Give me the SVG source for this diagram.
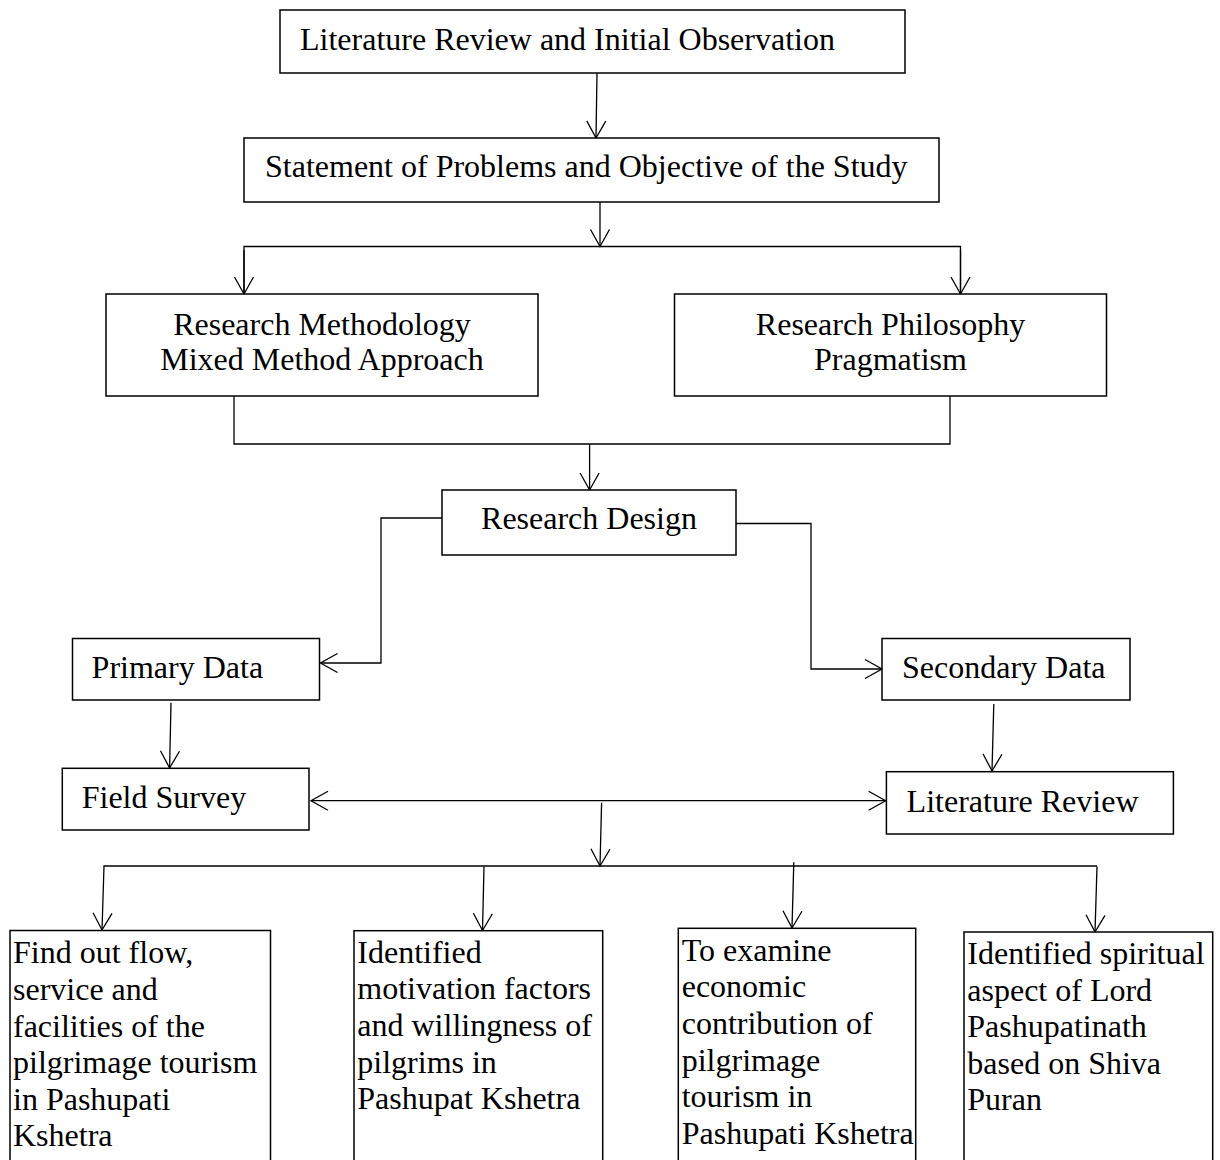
<svg xmlns="http://www.w3.org/2000/svg" width="1220" height="1160" viewBox="0 0 1220 1160">
<style>
.box{fill:#fff;stroke:#000;stroke-width:1.5}
.t{font-family:"Liberation Serif","Times New Roman",serif;font-size:32px;fill:#000}
.c{text-anchor:middle}
.ln{fill:none;stroke:#000;stroke-width:1.3}
</style>
<defs>
<marker id="arr" markerUnits="userSpaceOnUse" markerWidth="22" markerHeight="24" viewBox="-19 -12 22 24" refX="0" refY="0" orient="auto-start-reverse" overflow="visible">
<path d="M-17,-9.5 L0,0 L-17,9.5" fill="none" stroke="#000" stroke-width="1.3"/>
</marker>
</defs>
<rect width="1220" height="1160" fill="#fff"/>
<g id="connectors">
<line class="ln" x1="597" y1="73" x2="596" y2="138" marker-end="url(#arr)"/>
<line class="ln" x1="600" y1="202" x2="600" y2="246.5" marker-end="url(#arr)"/>
<polyline class="ln" points="244,294 244,246.5 960.5,246.5 960.5,294"/>
<line class="ln" x1="244" y1="250" x2="244" y2="294" marker-end="url(#arr)"/>
<line class="ln" x1="960.5" y1="250" x2="960.5" y2="294" marker-end="url(#arr)"/>
<polyline class="ln" points="234,396 234,444 950,444 950,396"/>
<line class="ln" x1="589.6" y1="444" x2="589.6" y2="490" marker-end="url(#arr)"/>
<polyline class="ln" points="442,518 381,518 381,663 320.5,663" marker-end="url(#arr)"/>
<polyline class="ln" points="736,523.5 811,523.5 811,669 882,669" marker-end="url(#arr)"/>
<line class="ln" x1="171" y1="702.7" x2="169.6" y2="768" marker-end="url(#arr)"/>
<line class="ln" x1="993.8" y1="704" x2="992" y2="771" marker-end="url(#arr)"/>
<line class="ln" x1="311" y1="800.7" x2="885.6" y2="800.7" marker-start="url(#arr)" marker-end="url(#arr)"/>
<line class="ln" x1="601.6" y1="802.7" x2="600" y2="866" marker-end="url(#arr)"/>
<line class="ln" x1="103.5" y1="866" x2="1097" y2="866"/>
<line class="ln" x1="104" y1="866" x2="102" y2="930" marker-end="url(#arr)"/>
<line class="ln" x1="484" y1="866.5" x2="482.5" y2="930.5" marker-end="url(#arr)"/>
<line class="ln" x1="793.8" y1="862.3" x2="792" y2="928" marker-end="url(#arr)"/>
<line class="ln" x1="1097" y1="866.5" x2="1095" y2="932" marker-end="url(#arr)"/>
</g>
<g id="n1"><rect class="box" x="280" y="10" width="625" height="63"/><text class="t" x="300" y="50">Literature Review and Initial Observation</text></g>
<g id="n2"><rect class="box" x="244" y="138" width="695" height="64"/><text class="t" x="265" y="177">Statement of Problems and Objective of the Study</text></g>
<g id="n3"><rect class="box" x="106" y="294" width="432" height="102"/><text class="t c" x="322" y="335">Research Methodology</text><text class="t c" x="322" y="370">Mixed Method Approach</text></g>
<g id="n4"><rect class="box" x="674.5" y="294" width="432" height="102"/><text class="t c" x="890.5" y="335">Research Philosophy</text><text class="t c" x="890.5" y="370">Pragmatism</text></g>
<g id="n5"><rect class="box" x="442" y="490" width="294" height="65"/><text class="t c" x="589" y="529">Research Design</text></g>
<g id="n6"><rect class="box" x="72.5" y="638.5" width="247" height="61.5"/><text class="t" x="91.6" y="678">Primary Data</text></g>
<g id="n7"><rect class="box" x="882" y="638.5" width="248" height="61.5"/><text class="t" x="902" y="678">Secondary Data</text></g>
<g id="n8"><rect class="box" x="62.3" y="768.3" width="246.7" height="61.7"/><text class="t" x="81.7" y="808.3">Field Survey</text></g>
<g id="n9"><rect class="box" x="886.4" y="771.7" width="287" height="62.3"/><text class="t" x="906.6" y="811.7">Literature Review</text></g>
<g id="n10"><rect class="box" x="10" y="930.5" width="260.5" height="240"/>
<text class="t" x="13" y="963.3">Find out flow,</text>
<text class="t" x="13" y="999.9">service and</text>
<text class="t" x="13" y="1036.5">facilities of the</text>
<text class="t" x="13" y="1073.1">pilgrimage tourism</text>
<text class="t" x="13" y="1109.7">in Pashupati</text>
<text class="t" x="13" y="1146.3">Kshetra</text></g>
<g id="n11"><rect class="box" x="354" y="930.7" width="248.7" height="240"/>
<text class="t" x="357.3" y="962.7">Identified</text>
<text class="t" x="357.3" y="999.3">motivation factors</text>
<text class="t" x="357.3" y="1035.9">and willingness of</text>
<text class="t" x="357.3" y="1072.5">pilgrims in</text>
<text class="t" x="357.3" y="1109.1">Pashupat Kshetra</text></g>
<g id="n12"><rect class="box" x="678.3" y="928.3" width="237.4" height="240"/>
<text class="t" x="681.7" y="960.7">To examine</text>
<text class="t" x="681.7" y="997.3">economic</text>
<text class="t" x="681.7" y="1033.9">contribution of</text>
<text class="t" x="681.7" y="1070.5">pilgrimage</text>
<text class="t" x="681.7" y="1107.1">tourism in</text>
<text class="t" x="681.7" y="1143.7">Pashupati Kshetra</text></g>
<g id="n13"><rect class="box" x="964" y="932" width="248.7" height="240"/>
<text class="t" x="967.3" y="964">Identified spiritual</text>
<text class="t" x="967.3" y="1000.6">aspect of Lord</text>
<text class="t" x="967.3" y="1037.2">Pashupatinath</text>
<text class="t" x="967.3" y="1073.8">based on Shiva</text>
<text class="t" x="967.3" y="1110.4">Puran</text></g>
</svg>
